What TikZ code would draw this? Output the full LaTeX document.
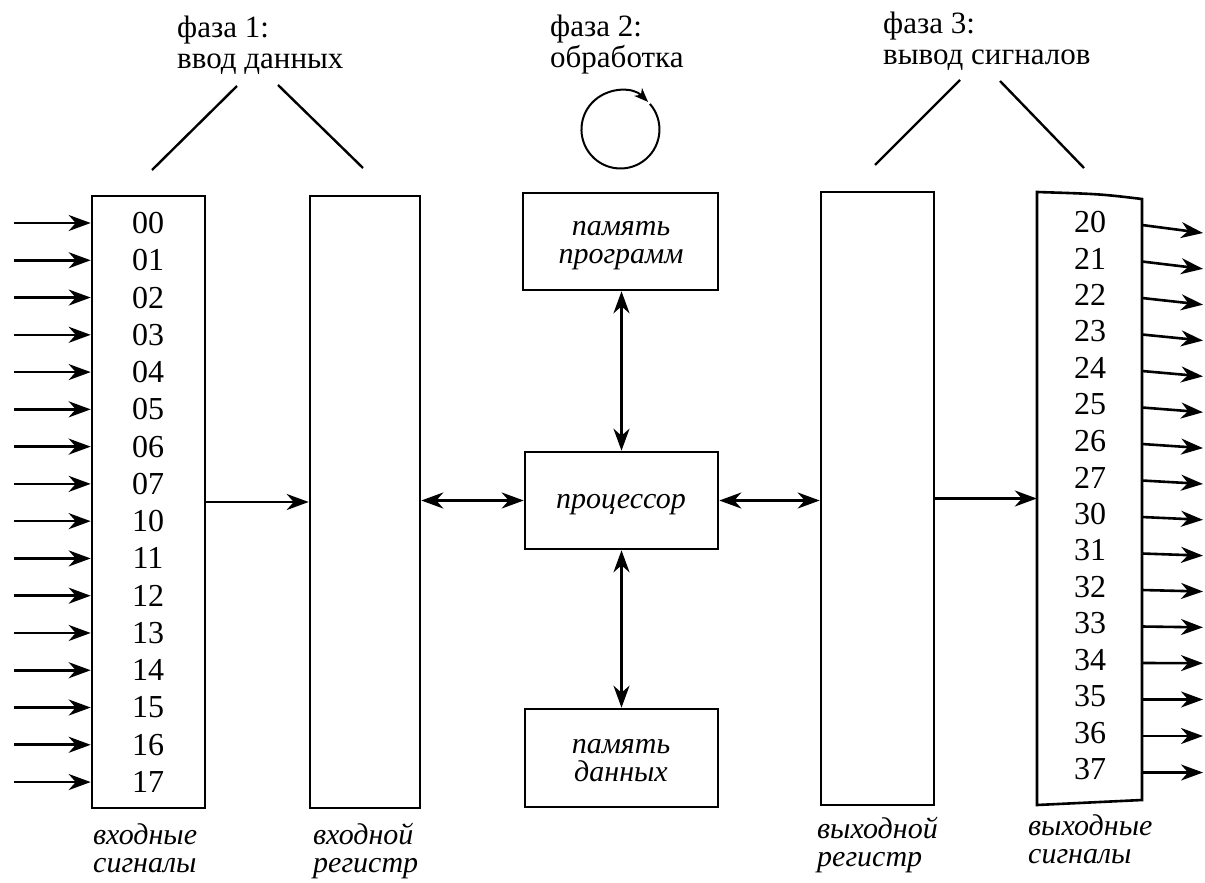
\documentclass[tikz,border=0pt]{standalone}
\usepackage{fontspec}
\setmainfont{Liberation Serif}
\usetikzlibrary{arrows.meta}
\begin{document}
\begin{tikzpicture}[x=1pt,y=-1pt,
  box/.style={draw, line width=2.6pt, inner sep=0pt},
  tipa/.tip={Stealth[length=22pt,width=16pt,inset=7pt]},
  arr/.style={line width=2.6pt, -tipa},
  darr/.style={line width=2.6pt, tipa-tipa},
  num/.style={font=\fontsize{32}{36}\selectfont, inner sep=0pt},
  lbl/.style={font=\fontsize{31}{31}\selectfont, inner sep=0pt, anchor=base west, align=left},
  ilbl/.style={font=\fontsize{30}{28}\selectfont\itshape, inner sep=0pt, anchor=base west, align=left},
  ctext/.style={font=\fontsize{30}{28}\selectfont\itshape, inner sep=0pt, align=center},
  phl/.style={line width=2.4pt}]
\useasboundingbox (0,0) rectangle (1205,883);

% boxes
\node[box, minimum width=113pt, minimum height=612pt] (inbox) at (148.5,502) {};
\node[box, minimum width=110pt, minimum height=612pt] (inreg) at (365,502) {};
\node[box, minimum width=193pt, minimum height=97pt] (proc) at (621.5,500.5) {};
\node[box, minimum width=195pt, minimum height=97pt] (pmem) at (620.5,241.5) {};
\node[box, minimum width=193pt, minimum height=98pt] (dmem) at (621.5,758) {};
\node[box, minimum width=113pt, minimum height=613pt] (outreg) at (877.5,498.5) {};
\node[inner sep=0pt, minimum width=105pt, minimum height=610pt] (outbox) at (1089.5,498) {};
\draw[line width=2.6pt, line join=miter] (1037,192) -- (1037,805) -- (1142,800) -- (1142,199) .. controls (1100,194) .. cycle;

% box texts
\node[ctext, anchor=base] (proct) at (621,508) {процессор};
\node[ctext, anchor=base] (pmt) at (621,263) {память\\программ};
\node[ctext, anchor=base] (dmt) at (621,781) {память\\данных};

% input signals
\foreach \n [count=\k from 0] in {00,01,02,03,04,05,06,07,10,11,12,13,14,15,16,17}{
  \pgfmathsetmacro\yy{223+37.27*\k}
  \node[num] (in\n) at (148,\yy) {\n};
  \coordinate (ls\k) at (14,\yy);
  \draw[arr] (ls\k) -- (ls\k -| inbox.west);
}

% output signals
\foreach \n [count=\k from 0] in {20,21,22,23,24,25,26,27,30,31,32,33,34,35,36,37}{
  \pgfmathsetmacro\yy{225+36.5*\k}
  \pgfmathsetmacro\dy{max(0,8-0.65*\k)}
  \pgfmathsetmacro\ye{\yy+\dy}
  \pgfmathsetmacro\yn{\yy-3}
  \node[num] (out\n) at (1090,\yn) {\n};
  \coordinate (rs\k) at (1142,\yy);
  \coordinate (re\k) at (1203,\ye);
  \draw[arr] (rs\k) -- (re\k);
}

% connectors
\draw[arr] (inbox.east) -- (inreg.west);
\draw[darr] (inreg.east |- proc.west) -- (proc.west);
\draw[darr] (proc.east) -- (outreg.west |- proc.east);
\draw[arr] (outreg.east) -- (outbox.west |- outreg.east);
\draw[darr] (proc.north |- pmem.south) -- (proc.north);
\draw[darr] (proc.south) -- (proc.south |- dmem.north);

% processing cycle
\draw[line width=2pt, -{Stealth[length=14pt,width=11pt,inset=4pt]}] (649.9,103.9) arc[start angle=-41, end angle=315, radius=39];

% phase lines
\draw[phl] (237,86) -- (152,170);
\draw[phl] (278,85) -- (363,168);
\draw[phl] (960,80) -- (875,165);
\draw[phl] (1000,81) -- (1084,168);

% phase labels
\node[lbl] (ph1) at (177,69) {фаза 1:\\ввод данных};
\node[lbl] (ph2) at (550,67) {фаза 2:\\обработка};
\node[lbl] (ph3) at (883,65) {фаза 3:\\вывод сигналов};

% bottom labels
\node[ilbl] (b1) at (93,872) {входные\\сигналы};
\node[ilbl] (b2) at (313,872) {входной\\регистр};
\node[ilbl] (b3) at (817,866) {выходной\\регистр};
\node[ilbl] (b4) at (1028,863) {выходные\\сигналы};
\end{tikzpicture}
\end{document}
